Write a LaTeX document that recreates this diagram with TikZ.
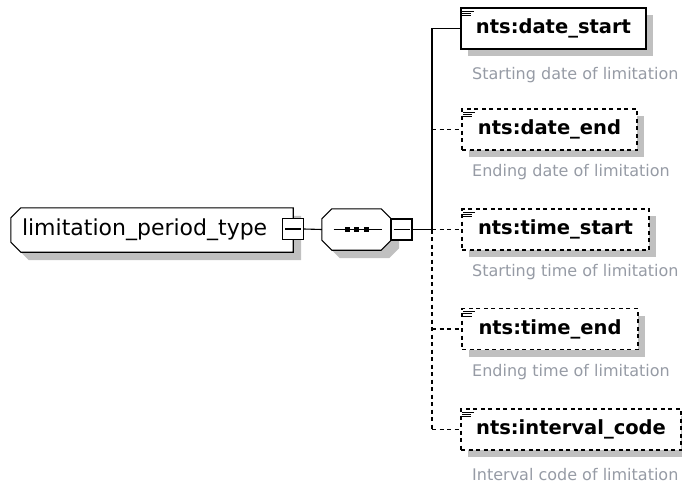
\documentclass[tikz,border=0pt]{standalone}
\usepackage{fontspec}
\setmainfont{DejaVu Sans}
\usetikzlibrary{shadows}
\definecolor{shd}{RGB}{192,192,192}
\definecolor{descc}{RGB}{150,155,165}
\pgfdeclarelayer{background}
\pgfsetlayers{background,main}
\begin{document}
\begin{tikzpicture}[x=1pt,y=-1pt,
  boxline/.style={line width=1.1pt},
  shadowed/.style={general shadow={fill=shd, draw=none, shadow xshift=#1, shadow yshift=-#1}},
  elem/.style={boxline, draw, fill=white, rectangle, shadowed=7pt, minimum height=41pt, inner sep=0pt,
    font=\fontsize{19.5}{22}\selectfont\bfseries},
  opt/.style={dash pattern=on 4pt off 3.5pt},
  holder/.style={rectangle, inner sep=0pt},
  outline/.style={boxline, draw, fill=white},
  shadowfill/.style={fill=shd, transform canvas={shift={(8pt,-8pt)}}},
  minusbox/.style={boxline, draw, fill=white, rectangle, minimum width=21pt, minimum height=21pt, inner sep=0pt,
    path picture={\draw[line width=1.1pt] ([xshift=2.5pt]path picture bounding box.west) -- ([xshift=-2.5pt]path picture bounding box.east);}},
  conn/.style={line width=1.1pt},
  desc/.style={anchor=west, text=descc, inner sep=0pt, font=\fontsize{16}{19}\selectfont},
  icon/.style={line width=0.9pt}
]
\useasboundingbox (0,0) rectangle (682,485);

% root and sequence (text holders; outlines drawn on background layer)
\node[holder, minimum width=282pt, minimum height=44pt, text width=260pt, align=left,
      font=\fontsize{22}{26}\selectfont] (root) at (152,230) {limitation\_period\_type};
\node[holder, minimum width=69pt, minimum height=41pt] (seq) at (356.5,229.5) {};

\begin{pgfonlayer}{background}
  % root: chamfered on the left only
  \fill[shadowfill] ([xshift=10pt]root.north west) -- (root.north east) -- (root.south east)
     -- ([xshift=10pt]root.south west) -- ([yshift=10pt]root.south west) -- ([yshift=-10pt]root.north west) -- cycle;
  \draw[outline] ([xshift=10pt]root.north west) -- (root.north east) -- (root.south east)
     -- ([xshift=10pt]root.south west) -- ([yshift=10pt]root.south west) -- ([yshift=-10pt]root.north west) -- cycle;
  % sequence: octagon
  \fill[shadowfill] ([xshift=10pt]seq.north west) -- ([xshift=-10pt]seq.north east) -- ([yshift=-10pt]seq.north east)
     -- ([yshift=10pt]seq.south east) -- ([xshift=-10pt]seq.south east) -- ([xshift=10pt]seq.south west)
     -- ([yshift=10pt]seq.south west) -- ([yshift=-10pt]seq.north west) -- cycle;
  \draw[outline] ([xshift=10pt]seq.north west) -- ([xshift=-10pt]seq.north east) -- ([yshift=-10pt]seq.north east)
     -- ([yshift=10pt]seq.south east) -- ([xshift=-10pt]seq.south east) -- ([xshift=10pt]seq.south west)
     -- ([yshift=10pt]seq.south west) -- ([yshift=-10pt]seq.north west) -- cycle;
\end{pgfonlayer}

\draw[line width=1.1pt] ([xshift=-23pt]seq.center) -- ([xshift=25pt]seq.center);
\foreach \dx in {-9.5,0,9.5}
  \fill ([xshift=\dx pt]seq.center) +(-2.5,-2.5) rectangle +(2.5,2.5);

\node[minusbox] (rm) at (293,229) {};
\node[minusbox] (sm) at (401.5,229.5) {};

% elements
\node[elem, minimum width=185pt] (ds) at (553.5,28.5) {nts:date\_start};
\node[elem, opt, minimum width=175pt] (de) at (549.5,129.5) {nts:date\_end};
\node[elem, opt, minimum width=187pt] (ts) at (555.5,229.5) {nts:time\_start};
\node[elem, opt, minimum width=176pt] (te) at (550,329) {nts:time\_end};
\node[elem, opt, minimum width=220pt] (ic) at (571,429.5) {nts:interval\_code};

\foreach \n in {ds,de,ts,te,ic} {
  \draw[icon] ([xshift=2pt,yshift=-3.5pt]\n.north west) -- ++(12,0);
  \draw[icon] ([xshift=2pt,yshift=-5.8pt]\n.north west) -- ++(9,0);
  \draw[icon] ([xshift=2pt,yshift=-8.1pt]\n.north west) -- ++(9,0);
}

% descriptions
\node[desc] (dsd) at (472,75) {Starting date of limitation};
\node[desc] (ded) at (472,172) {Ending date of limitation};
\node[desc] (tsd) at (472,272.5) {Starting time of limitation};
\node[desc] (ted) at (472,372.5) {Ending time of limitation};
\node[desc] (icd) at (472,475) {Interval code of limitation};

% connectors
\coordinate (t) at (432,229.5);
\draw[conn] (rm.east) -- (seq.west);
\draw[conn] (sm.east) -- (t);
\draw[conn] (t) |- (ds.west);
\draw[conn, opt] (t) -- (t |- ic.west);
\draw[conn, opt] (de.west -| t) -- (de.west);
\draw[conn, opt] (t) -- (ts.west);
\draw[conn, opt] (te.west -| t) -- (te.west);
\draw[conn, opt] (ic.west -| t) -- (ic.west);
\end{tikzpicture}
\end{document}
